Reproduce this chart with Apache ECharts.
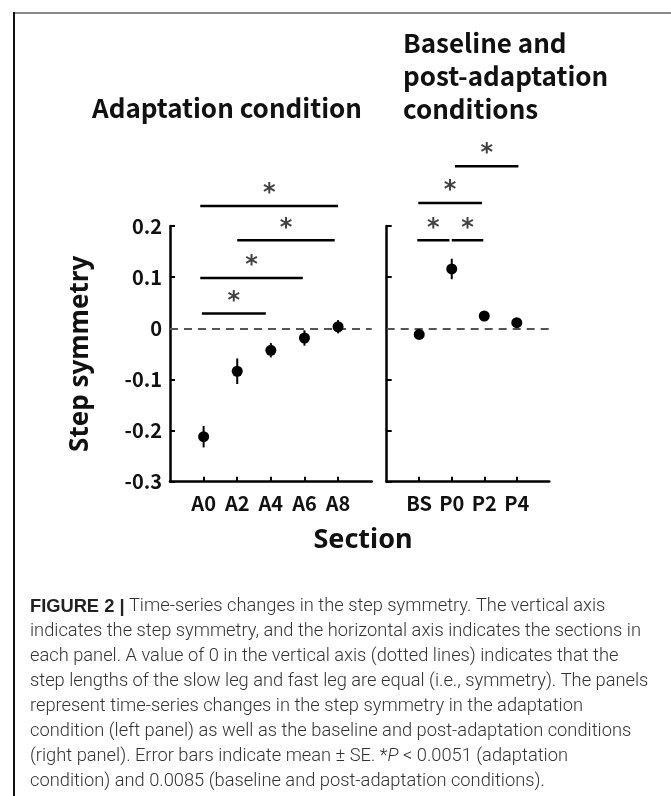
<!DOCTYPE html>
<html>
<head>
<meta charset="utf-8">
<script src="https://cdn.jsdelivr.net/npm/echarts@6/dist/echarts.min.js"></script>
<style>
  html, body { margin: 0; padding: 0; background: #fff; }
  #chart { width: 671px; height: 796px; }
</style>
</head>
<body>
<div id="chart"></div>
<script>
// adaptation panel
const leftCats = ['A0', 'A2', 'A4', 'A6', 'A8'];
const leftMean = [-0.212, -0.084, -0.043, -0.019, 0.003];
const leftSE = [0.021, 0.025, 0.014, 0.015, 0.013];
// baseline / post-adaptation panel
const rightCats = ['BS', 'P0', 'P2', 'P4'];
const rightMean = [-0.012, 0.116, 0.024, 0.011];
const rightSE = [0.005, 0.02, 0.007, 0.008];

// significance bars: start / end position (in category steps) and height
const leftSigStart = [-0.1, 1.0, -0.1, -0.05];
const leftSigEnd = [4.0, 3.9, 2.95, 1.85];
const leftSigY = [0.239, 0.172, 0.0985, 0.029];
const rightSigStart = [1.1, -0.03, -0.06, 1.0];
const rightSigEnd = [3.05, 1.93, 0.93, 1.97];
const rightSigY = [0.317, 0.245, 0.172, 0.172];

const tickFont = 'Noto Sans CJK JP';

function points(means, ses) {
    return means.map((m, i) => [i, m, ses[i]]);
}
function sigBars(s, e, y) {
    return s.map((v, i) => [v, e[i], y[i]]);
}
function sigStars(s, e, y) {
    return s.map((v, i) => [(v + e[i]) / 2, y[i]]);
}

function xAxisFor(grid, cats, max) {
    const idx = cats.map((c, i) => i);
    return {
        gridIndex: grid, type: 'value', min: -1, max: max,
        axisLine: { show: true, onZero: false, lineStyle: { color: '#000', width: 2.5 } },
        axisTick: { show: true, inside: true, length: 5, customValues: idx, lineStyle: { color: '#000', width: 2 } },
        axisLabel: {
            customValues: idx, formatter: v => cats[Math.round(v)] || '',
            color: '#111', fontFamily: tickFont, fontWeight: 'bold', fontSize: 20, margin: 12
        },
        splitLine: { show: false }
    };
}
function yAxisFor(grid, labels) {
    return {
        gridIndex: grid, type: 'value', min: -0.3, max: 0.2, interval: 0.1,
        axisLine: { show: true, onZero: false, lineStyle: { color: '#000', width: 2.5 } },
        axisTick: { show: true, inside: true, length: 5, lineStyle: { color: '#000', width: 2 } },
        axisLabel: {
            show: labels, formatter: v => (Math.abs(v) < 1e-9 ? '0' : v.toFixed(1)),
            color: '#111', fontFamily: tickFont, fontWeight: 'bold', fontSize: 20, margin: 8
        },
        splitLine: { show: false },
        name: labels ? 'Step symmetry' : '',
        nameLocation: 'middle', nameGap: 76,
        nameTextStyle: { color: '#111', fontFamily: 'Noto Sans', fontWeight: 'bold', fontSize: 26 }
    };
}

function errorSeries(idx, data) {
    return {
        type: 'custom', xAxisIndex: idx, yAxisIndex: idx, data: data, silent: true,
        encode: { x: 0, y: 1 },
        renderItem: function (params, api) {
            const x = api.value(0), m = api.value(1), e = api.value(2);
            const lo = api.coord([x, m - e]);
            const hi = api.coord([x, m + e]);
            return { type: 'line', shape: { x1: lo[0], y1: lo[1], x2: hi[0], y2: hi[1] },
                     style: { stroke: '#000', lineWidth: 2 } };
        }
    };
}
function dotSeries(idx, data) {
    return {
        type: 'scatter', xAxisIndex: idx, yAxisIndex: idx, data: data, symbolSize: 11,
        itemStyle: { color: '#000', opacity: 1 }, silent: true, z: 5,
        markLine: {
            silent: true, symbol: 'none', label: { show: false },
            lineStyle: { color: '#555', width: 2, type: [8, 6] },
            data: [{ yAxis: 0 }]
        }
    };
}
function barSeries(idx, data) {
    return {
        type: 'custom', xAxisIndex: idx, yAxisIndex: idx, data: data, clip: false, silent: true,
        encode: { x: [0, 1], y: 2 },
        renderItem: function (params, api) {
            const a = api.coord([api.value(0), api.value(2)]);
            const b = api.coord([api.value(1), api.value(2)]);
            return { type: 'line', shape: { x1: a[0], y1: a[1], x2: b[0], y2: b[1] },
                     style: { stroke: '#000', lineWidth: 2.5 } };
        }
    };
}
function starSeries(idx, data) {
    return {
        type: 'scatter', xAxisIndex: idx, yAxisIndex: idx, data: data, clip: false, silent: true,
        symbolSize: 1, itemStyle: { color: 'rgba(0,0,0,0)' },
        label: {
            show: true, formatter: '*', position: 'inside', offset: [0, -12],
            color: '#111', fontFamily: 'DejaVu Sans', fontWeight: 'bold', fontSize: 24
        }
    };
}

const caption =
    '{b|FIGURE 2 |} Time-series changes in the step symmetry. The vertical axis\n' +
    'indicates the step symmetry, and the horizontal axis indicates the sections in\n' +
    'each panel. A value of 0 in the vertical axis (dotted lines) indicates that the\n' +
    'step lengths of the slow leg and fast leg are equal (i.e., symmetry). The panels\n' +
    'represent time-series changes in the step symmetry in the adaptation\n' +
    'condition (left panel) as well as the baseline and post-adaptation conditions\n' +
    '(right panel). Error bars indicate mean \u00b1 SE. *{i|P} < 0.0051 (adaptation\n' +
    'condition) and 0.0085 (baseline and post-adaptation conditions).';

const capFont = { fontFamily: 'Roboto', fontWeight: 300, fontSize: 18.3, fill: '#333' };

const myChart = echarts.init(document.getElementById('chart'), null, { renderer: 'canvas' });
myChart.setOption({
    backgroundColor: '#fff',
    animation: false,
    title: [
        { text: 'Adaptation condition', left: 222, top: 90, textAlign: 'center',
          textStyle: { color: '#111', fontFamily: tickFont, fontWeight: 'bold', fontSize: 26 } },
        { text: 'Baseline and\npost-adaptation\nconditions', left: 398, top: 22,
          textStyle: { color: '#111', fontFamily: tickFont, fontWeight: 'bold', fontSize: 26, lineHeight: 33 } },
        { text: 'Section', left: 358, top: 522, textAlign: 'center',
          textStyle: { color: '#111', fontFamily: 'Noto Sans', fontWeight: 'bold', fontSize: 27 } }
    ],
    grid: [
        { left: 170, top: 226, width: 201.7, height: 255.7 },
        { left: 386.7, top: 226, width: 162.6, height: 255.7 }
    ],
    xAxis: [xAxisFor(0, leftCats, 5), xAxisFor(1, rightCats, 4)],
    yAxis: [yAxisFor(0, true), yAxisFor(1, false)],
    series: [
        errorSeries(0, points(leftMean, leftSE)),
        dotSeries(0, points(leftMean, leftSE)),
        barSeries(0, sigBars(leftSigStart, leftSigEnd, leftSigY)),
        starSeries(0, sigStars(leftSigStart, leftSigEnd, leftSigY)),
        errorSeries(1, points(rightMean, rightSE)),
        dotSeries(1, points(rightMean, rightSE)),
        barSeries(1, sigBars(rightSigStart, rightSigEnd, rightSigY)),
        starSeries(1, sigStars(rightSigStart, rightSigEnd, rightSigY))
    ],
    graphic: [
        { type: 'line', silent: true, shape: { x1: 14, y1: 13, x2: 671, y2: 13 },
          style: { stroke: '#888', lineWidth: 2 } },
        { type: 'line', silent: true, shape: { x1: 14, y1: 12, x2: 14, y2: 796 },
          style: { stroke: '#111', lineWidth: 2 } },
        { type: 'text', silent: true, left: 30, top: 594,
          style: Object.assign({
              text: caption, lineHeight: 25,
              rich: {
                  b: Object.assign({}, capFont, { fontFamily: 'Liberation Sans', fontWeight: 'bold', fill: '#222' }),
                  i: Object.assign({}, capFont, { fontStyle: 'italic' })
              }
          }, capFont) }
    ]
});
</script>
</body>
</html>
